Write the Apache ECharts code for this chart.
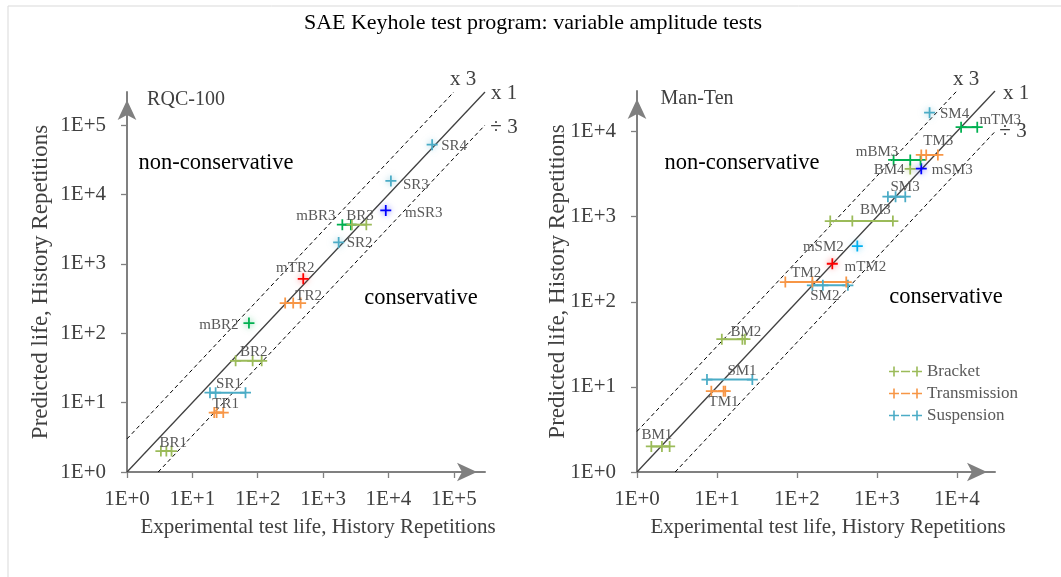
<!DOCTYPE html>
<html><head><meta charset="utf-8">
<script src="https://cdn.jsdelivr.net/npm/echarts@6/dist/echarts.min.js"></script>
<style>html,body{margin:0;padding:0;background:#fff;overflow:hidden}#c{width:1061px;height:577px}</style>
</head><body><div id="c"></div>
<script>
// ---------- DATA ----------
const chartTitle = 'SAE Keyhole test program: variable amplitude tests';
const panelNames = ['RQC-100', 'Man-Ten'];
const xAxisTitle = 'Experimental test life, History Repetitions';
const yAxisTitle = 'Predicted life, History Repetitions';
const axisMax = [300000, 30000];
const tickValues = [[1, 10, 100, 1000, 10000, 100000], [1, 10, 100, 1000, 10000]];
const groupNames = ['Bracket', 'Transmission', 'Suspension'];
const guideFactors = [3, 1, 1 / 3];
const guideTexts = ['x 3', 'x 1', '÷ 3'];

// RQC-100 panel
const rqcNames = ['BR1', 'TR1', 'SR1', 'BR2', 'mBR2', 'TR2', 'mTR2', 'SR2', 'mBR3', 'BR3', 'mSR3', 'SR3', 'SR4'];
const rqcPredicted = [2, 7.2, 13.9, 40, 140, 272, 610, 2040, 3670, 3670, 5900, 15700, 52300];
const rqcExperimental = [[3.3, 4.0, 4.8], [21.6, 23.5, 29.7], [18.6, 22.7, 65], [45.9, 83.6, 115], [73.4], [263, 349, 453], [497], [1730], [1970, 2660], [2760, 4590], [9100], [10900], [46600]];

// Man-Ten panel
const mtNames = ['BM1', 'TM1', 'SM1', 'BM2', 'SM2', 'TM2', 'mTM2', 'mSM2', 'BM3', 'SM3', 'BM4', 'mSM3', 'mBM3', 'TM3', 'mTM3', 'SM4'];
const mtPredicted = [2.0, 8.9, 12.2, 36.4, 156, 170.6, 280, 452, 890, 1719, 3640, 3670, 4650, 5320, 11270, 16700];
const mtExperimental = [[1.51, 2.05, 2.56], [8.5, 12.1, 12.7], [7.5, 27.7], [11.5, 20.8, 22.4], [156, 211, 434], [71.6, 156, 414], [277], [569], [261, 493, 1585], [1373, 1713, 2265], [2610], [3590], [1618, 2614, 3516], [3590, 4140, 5790], [11300, 18000], [4560]];

// ---------- STYLE ----------
const FONT = '"Liberation Serif", "DejaVu Serif", serif';
const groupColors = { Bracket: '#9BBB59', Transmission: '#F79646', Suspension: '#4BACC6' };
const specialColors = { mBR2: '#00B050', mBR3: '#00B050', mBM3: '#00B050', mTM3: '#00B050', mTR2: '#FF0000', mTM2: '#FF0000', mSR3: '#0000FF', mSM3: '#0000FF', mSM2: '#00B0F0' };
// [anchor point index, dx, dy] of the label text centre
const labelPlace = {
  BR1: [1, 7, -8], TR1: [1, 9, -8], SR1: [0, 19, -9], BR2: [1, 1, -8.5], mBR2: [0, -30, 2], TR2: [2, 8, -7],
  mTR2: [0, -8, -11], SR2: [0, 21, 1], mBR3: [0, -26.5, -9], BR3: [0, 8, -9], mSR3: [0, 38, 2.6], SR3: [0, 25, 4], SR4: [0, 22, 1],
  BM1: [1, -5, -11], TM1: [1, 0, 11], SM1: [0, 35, -8], BM2: [0, 24, -7], SM2: [1, 2, 11], TM2: [1, -6, -9],
  mTM2: [0, 33, 3], mSM2: [0, -34, 1], BM3: [1, 23, -11], SM3: [1, 9.5, -10], BM4: [0, -21, 1], mSM3: [0, 31, 1],
  mBM3: [0, -16.5, -8], TM3: [1, 12, -14], mTM3: [1, 23, -7], SM4: [0, 25, 1]
};
const crossPath = 'path://M4.2,0h1.6v4.2h4.2v1.6h-4.2v4.2h-1.6v-4.2h-4.2v-1.6h4.2z';
const legendIcon = 'path://M4.2,1h1.6v4.2h4.2v1.6h-4.2v4.2h-1.6v-4.2h-4.2v-1.6h4.2zM12,5.2h9v1.6h-9zM27.2,1h1.6v4.2h4.2v1.6h-4.2v4.2h-1.6v-4.2h-4.2v-1.6h4.2z';
const grids = [
  { left: 127, top: 92, width: 358, height: 380 },
  { left: 637, top: 91, width: 358, height: 381 }
];

function groupOf(n) {
  if (n[0] === 'm') return n;
  return { B: 'Bracket', T: 'Transmission', S: 'Suspension' }[n[0]];
}
function hexA(hex, a) {
  const v = parseInt(hex.slice(1), 16);
  return 'rgba(' + (v >> 16) + ',' + ((v >> 8) & 255) + ',' + (v & 255) + ',' + a + ')';
}

const series = [];
function addGuides(p) {
  const max = axisMax[p];
  guideFactors.forEach((f, k) => {
    const x0 = Math.max(1, 1 / f), x1 = Math.min(max, max / f);
    series.push({
      type: 'line', name: guideTexts[k], xAxisIndex: p, yAxisIndex: p, silent: true, symbol: 'none', animation: false, z: 2,
      data: [[x0, x0 * f], [x1, x1 * f]],
      lineStyle: f === 1 ? { color: '#404040', width: 1.3 } : { color: '#000', width: 1, type: [4, 3] }
    });
  });
}
function addTests(p, names, pred, exps) {
  names.forEach((n, i) => {
    const g = groupOf(n);
    const color = specialColors[n] || groupColors[g];
    const lp = labelPlace[n];
    const single = exps[i].length === 1;
    const data = exps[i].map((x, j) => j === lp[0]
      ? { value: [x, pred[i]], label: { show: true, formatter: n, position: 'inside', offset: [lp[1], lp[2]] } }
      : [x, pred[i]]);
    series.push({
      type: 'line', name: g, xAxisIndex: p, yAxisIndex: p, data, animation: false, z: 5,
      symbol: crossPath, symbolSize: 11, showSymbol: true, showAllSymbol: true,
      lineStyle: { color, width: 2 },
      itemStyle: single ? { color, shadowBlur: 6, shadowColor: hexA(color, 0.55) } : { color },
      label: { fontFamily: FONT, fontSize: 15, color: '#595959' },
      emphasis: { disabled: true }
    });
  });
}
addGuides(0); addGuides(1);
addTests(0, rqcNames, rqcPredicted, rqcExperimental);
addTests(1, mtNames, mtPredicted, mtExperimental);

function xAxis(p) {
  return {
    type: 'log', logBase: 10, gridIndex: p, min: 1, max: axisMax[p],
    name: xAxisTitle, nameLocation: 'middle', nameGap: 45, nameMoveOverlap: false,
    nameTextStyle: { fontFamily: FONT, fontSize: 21, color: '#404040', padding: [0, 0, 0, 24] },
    axisLine: { show: true, lineStyle: { color: '#808080', width: 2 }, symbol: ['none', 'arrow'], symbolSize: [14, 20], symbolOffset: [0, -8] },
    axisTick: { show: true, length: 6, lineStyle: { color: '#808080', width: 1.3 }, customValues: tickValues[p] },
    axisLabel: { fontFamily: FONT, fontSize: 21, color: '#404040', margin: 17, customValues: tickValues[p],
      formatter: v => '1E+' + Math.round(Math.log10(v)) },
    splitLine: { show: false }, minorTick: { show: false }
  };
}
function yAxis(p) {
  return {
    type: 'log', logBase: 10, gridIndex: p, min: 1, max: axisMax[p],
    name: yAxisTitle, nameLocation: 'middle', nameGap: p === 0 ? 75 : 68, nameMoveOverlap: false,
    nameTextStyle: { fontFamily: FONT, fontSize: 23, color: '#404040' },
    axisLine: { show: true, lineStyle: { color: '#808080', width: 2 }, symbol: ['none', 'arrow'], symbolSize: [14, 20], symbolOffset: [0, -8] },
    axisTick: { show: true, length: 6, lineStyle: { color: '#808080', width: 1.3 }, customValues: tickValues[p] },
    axisLabel: { fontFamily: FONT, fontSize: 21, color: '#404040', margin: 21, customValues: tickValues[p],
      formatter: v => '1E+' + Math.round(Math.log10(v)) },
    splitLine: { show: false }, minorTick: { show: false }
  };
}

function txt(text, x, y, size, color) {
  return { type: 'text', x, y, silent: true, z: 10,
    style: { text, fontFamily: FONT, fontSize: size, fill: color, align: 'center', verticalAlign: 'middle' } };
}
const graphics = [
  { type: 'rect', shape: { x: 8, y: 6, width: 1100, height: 620 }, style: { fill: 'none', stroke: '#D9D9D9', lineWidth: 1 }, silent: true, z: 0 },
  txt(chartTitle, 533, 23, 22, '#000'),
  txt(panelNames[0], 186, 100, 20, '#404040'),
  txt(panelNames[1], 697, 99, 20, '#404040'),
  txt('non-conservative', 216, 163, 22.5, '#000'),
  txt('non-conservative', 742, 163, 22.5, '#000'),
  txt('conservative', 421, 298, 22.5, '#000'),
  txt('conservative', 946, 297, 22.5, '#000'),
  txt(guideTexts[0], 463, 79, 21, '#404040'),
  txt(guideTexts[1], 504, 93, 21, '#404040'),
  txt(guideTexts[2], 504, 127, 21, '#404040'),
  txt(guideTexts[0], 966, 79, 21, '#404040'),
  txt(guideTexts[1], 1016, 93, 21, '#404040'),
  txt(guideTexts[2], 1013, 131, 21, '#404040')
];

const chart = echarts.init(document.getElementById('c'), null, { renderer: 'canvas' });
chart.setOption({
  backgroundColor: '#fff',
  animation: false,
  grid: grids,
  xAxis: [xAxis(0), xAxis(1)],
  yAxis: [yAxis(0), yAxis(1)],
  legend: {
    orient: 'vertical', left: 889, top: 363, itemWidth: 33, itemHeight: 12, itemGap: 5, padding: 0,
    selectedMode: false,
    textStyle: { fontFamily: FONT, fontSize: 17, color: '#595959' },
    data: groupNames.map(n => ({ name: n, icon: legendIcon }))
  },
  graphic: graphics,
  series
});
</script>
</body></html>
